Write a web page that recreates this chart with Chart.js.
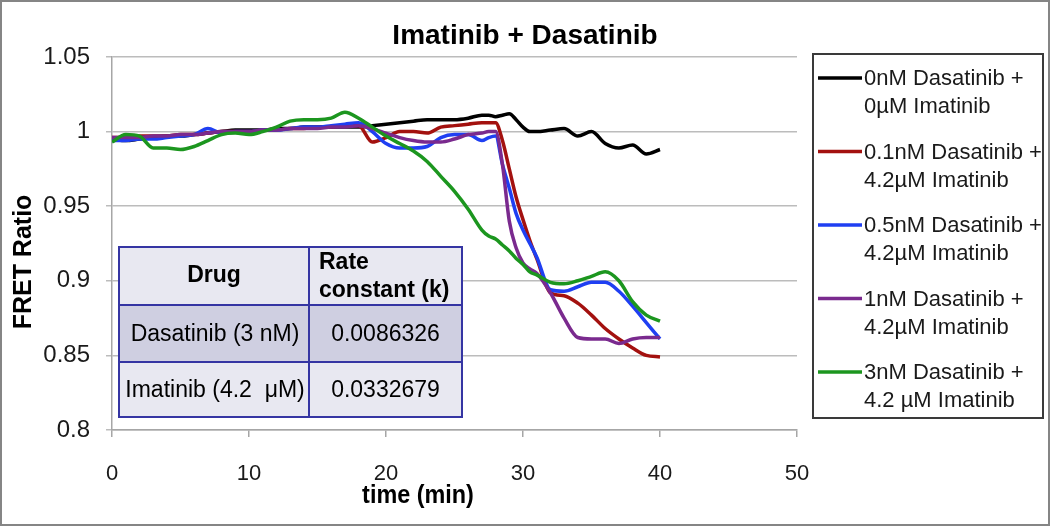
<!DOCTYPE html>
<html>
<head>
<meta charset="utf-8">
<script src="https://cdn.jsdelivr.net/npm/chart.js@4.4.1/dist/chart.umd.min.js"></script>
<style>
  html, body { margin: 0; padding: 0; background: #fff; }
  #wrap { width: 1050px; height: 526px; }
</style>
</head>
<body>
<div id="wrap"><canvas id="fretChart" width="1050" height="526"></canvas></div>
<script>
// time points (min)
let times = [0, 1, 2, 3, 4, 5, 6, 7, 8, 9, 10, 11, 12, 13, 14, 15, 16, 17, 18, 19, 20,
    21, 22, 23, 24, 25, 26, 27, 27.5, 28, 28.5, 29, 29.5, 30, 30.5, 31,
    32, 33, 34, 35, 36, 37, 38, 39, 40];

let ctrl = [0.995, 0.994, 0.995, 0.996, 0.997, 0.997, 0.998, 0.999, 1.000, 1.001, 1.001,
    1.001, 1.002, 1.002, 1.003, 1.003, 1.003, 1.003, 1.003, 1.004, 1.005,
    1.006, 1.007, 1.008, 1.008, 1.008, 1.009, 1.011, 1.011, 1.010, 1.011, 1.012, 1.008, 1.003, 1.000, 1.000,
    1.001, 1.002, 0.997, 1.000, 0.992, 0.989, 0.991, 0.985, 0.988];

let das01 = [0.996, 0.996, 0.997, 0.997, 0.997, 0.998, 0.998, 0.999, 1.000, 1.000, 1.000,
    1.001, 1.001, 1.002, 1.002, 1.003, 1.003, 1.004, 1.004, 0.993, 0.996,
    1.000, 1.000, 0.999, 1.003, 1.004, 1.005, 1.006, 1.006, 1.006, 0.994, 0.975, 0.956, 0.941, 0.927, 0.915,
    0.892, 0.890, 0.885, 0.877, 0.868, 0.861, 0.855, 0.850, 0.849];

let das05 = [0.994, 0.994, 0.995, 0.995, 0.996, 0.997, 0.998, 1.002, 0.999, 1.000, 1.000,
    1.001, 1.001, 1.002, 1.003, 1.003, 1.004, 1.005, 1.006, 1.000, 0.992,
    0.989, 0.989, 0.990, 0.996, 0.998, 0.998, 0.994, 0.996, 0.997, 0.978, 0.962, 0.945, 0.934, 0.925, 0.916,
    0.894, 0.893, 0.896, 0.899, 0.899, 0.893, 0.883, 0.872, 0.861];

let das1 = [0.996, 0.996, 0.996, 0.997, 0.997, 0.998, 0.998, 0.999, 1.000, 1.000, 1.000,
    1.001, 1.001, 1.002, 1.002, 1.002, 1.003, 1.003, 1.004, 1.002, 0.999,
    0.996, 0.994, 0.993, 0.993, 0.995, 0.998, 0.999, 1.000, 1.000, 0.978, 0.940, 0.922, 0.912, 0.908, 0.905,
    0.892, 0.875, 0.862, 0.861, 0.861, 0.858, 0.861, 0.862, 0.862];

let das3 = [0.993, 0.998, 0.997, 0.989, 0.989, 0.988, 0.990, 0.994, 0.998, 0.999, 0.998,
    1.000, 1.003, 1.007, 1.008, 1.008, 1.009, 1.013, 1.009, 1.003, 0.997,
    0.992, 0.987, 0.980, 0.970, 0.960, 0.948, 0.934, 0.930, 0.928, 0.924, 0.920, 0.915, 0.911, 0.906, 0.904,
    0.899, 0.898, 0.900, 0.903, 0.906, 0.900, 0.886, 0.877, 0.873];

let seriesLabels = [
    ["0nM Dasatinib +", "0\u00b5M Imatinib"],
    ["0.1nM Dasatinib +", "4.2\u00b5M Imatinib"],
    ["0.5nM Dasatinib +", "4.2\u00b5M Imatinib"],
    ["1nM Dasatinib +", "4.2\u00b5M Imatinib"],
    ["3nM Dasatinib +", "4.2 \u00b5M Imatinib"]
];
let seriesColors = ["#000000", "#a3110f", "#1f3ff2", "#7a2a8e", "#1c961f"];

let yTickLabels = ["0.8", "0.85", "0.9", "0.95", "1", "1.05"];
let xTickLabels = ["0", "10", "20", "30", "40", "50"];

let tableHeader = [["Drug"], ["Rate", "constant (k)"]];
let tableDrugs = ["Dasatinib (3 nM)", "Imatinib (4.2  \u03bcM)"];
let rateConstants = ["0.0086326", "0.0332679"];

let chartTitle = "Imatinib + Dasatinib";
let xTitle = "time (min)";
let yTitle = "FRET Ratio";

const FONT = '"Liberation Sans", Arial, sans-serif';

function toPoints(values) {
    return values.map((v, i) => ({ x: times[i], y: v }));
}

let allSeries = [ctrl, das01, das05, das1, das3];

let datasets = allSeries.map((vals, i) => ({
    label: seriesLabels[i].join(" "),
    data: toPoints(vals),
    borderColor: seriesColors[i],
    borderWidth: 3.5,
    pointRadius: 0,
    cubicInterpolationMode: "monotone",
    fill: false,
    order: allSeries.length - i
}));

const decorPlugin = {
    id: "decor",
    afterDraw(chart) {
        let ctx = chart.ctx;
        ctx.save();

        // title
        ctx.fillStyle = "#000";
        ctx.font = "bold 28px " + FONT;
        ctx.textAlign = "center";
        ctx.textBaseline = "middle";
        ctx.fillText(chartTitle, 525, 36);

        // x title, squeezed a little like the narrow original
        ctx.save();
        ctx.translate(418, 496);
        ctx.scale(0.9, 1);
        ctx.font = "bold 26px " + FONT;
        ctx.fillText(xTitle, 0, 0);
        ctx.restore();

        ctx.save();
        ctx.translate(24, 262);
        ctx.rotate(-Math.PI / 2);
        ctx.font = "bold 25px " + FONT;
        ctx.fillText(yTitle, 0, 0);
        ctx.restore();

        // rate constant table
        let tx = [119, 309, 462];
        let ty = [247, 305, 362, 417];
        let fills = ["#e8e8f1", "#cfcfe1", "#e8e8f1"];
        for (let r = 0; r < 3; r++) {
            ctx.fillStyle = fills[r];
            ctx.fillRect(tx[0], ty[r], tx[2] - tx[0], ty[r + 1] - ty[r]);
        }
        ctx.strokeStyle = "#3535a3";
        ctx.lineWidth = 2;
        ctx.strokeRect(tx[0], ty[0], tx[2] - tx[0], ty[3] - ty[0]);
        ctx.beginPath();
        ctx.moveTo(tx[1], ty[0]); ctx.lineTo(tx[1], ty[3]);
        ctx.moveTo(tx[0], ty[1]); ctx.lineTo(tx[2], ty[1]);
        ctx.moveTo(tx[0], ty[2]); ctx.lineTo(tx[2], ty[2]);
        ctx.stroke();

        ctx.fillStyle = "#000";
        ctx.font = "bold 23px " + FONT;
        ctx.textAlign = "center";
        ctx.fillText(tableHeader[0][0], (tx[0] + tx[1]) / 2, 276);
        ctx.textAlign = "left";
        ctx.fillText(tableHeader[1][0], 319, 263);
        ctx.fillText(tableHeader[1][1], 319, 291);

        ctx.font = "23px " + FONT;
        ctx.textAlign = "center";
        for (let r = 0; r < tableDrugs.length; r++) {
            let cy = (ty[r + 1] + ty[r + 2]) / 2 + 1;
            ctx.fillText(tableDrugs[r], (tx[0] + tx[1]) / 2 + 1, cy);
            ctx.fillText(rateConstants[r], (tx[1] + tx[2]) / 2, cy);
        }

        // legend box
        ctx.strokeStyle = "#3a3a3a";
        ctx.lineWidth = 2;
        ctx.strokeRect(813, 54, 230, 364);
        ctx.font = "22px " + FONT;
        ctx.textAlign = "left";
        ctx.fillStyle = "#1a1a1a";
        for (let i = 0; i < seriesLabels.length; i++) {
            let ly = 78 + i * 73.5;
            ctx.strokeStyle = seriesColors[i];
            ctx.lineWidth = 3.5;
            ctx.beginPath();
            ctx.moveTo(818, ly);
            ctx.lineTo(862, ly);
            ctx.stroke();
            ctx.fillText(seriesLabels[i][0], 864, ly + 1);
            ctx.fillText(seriesLabels[i][1], 864, ly + 29);
        }

        // outer frame
        ctx.strokeStyle = "#858585";
        ctx.lineWidth = 2;
        ctx.strokeRect(1, 1, 1048, 524);
        ctx.restore();
    }
};

new Chart(document.getElementById("fretChart").getContext("2d"), {
    type: "line",
    data: { datasets: datasets },
    options: {
        responsive: false,
        animation: false,
        layout: { padding: { top: 57, right: 253, left: 0, bottom: 0 } },
        plugins: {
            legend: { display: false },
            title: { display: false },
            tooltip: { enabled: false }
        },
        scales: {
            x: {
                type: "linear",
                min: 0,
                max: 50,
                afterFit: (scale) => { scale.height = 96; },
                ticks: {
                    stepSize: 10,
                    padding: 24,
                    color: "#1a1a1a",
                    font: { family: FONT, size: 22 },
                    callback: (value) => xTickLabels[Math.round(value / 10)]
                },
                grid: { drawOnChartArea: false, tickLength: 7, color: "#a6a6a6", lineWidth: 1.5 },
                border: { color: "#a6a6a6", width: 1.5 }
            },
            y: {
                min: 0.8,
                max: 1.05,
                afterFit: (scale) => { scale.width = 112; },
                ticks: {
                    stepSize: 0.05,
                    padding: 16,
                    color: "#1a1a1a",
                    font: { family: FONT, size: 24 },
                    callback: (value) => yTickLabels[Math.round((value - 0.8) / 0.05)]
                },
                grid: { tickLength: 6, color: "#bcbcbc", lineWidth: 1.5 },
                border: { color: "#a6a6a6", width: 1.5 }
            }
        }
    },
    plugins: [decorPlugin]
});
</script>
</body>
</html>
